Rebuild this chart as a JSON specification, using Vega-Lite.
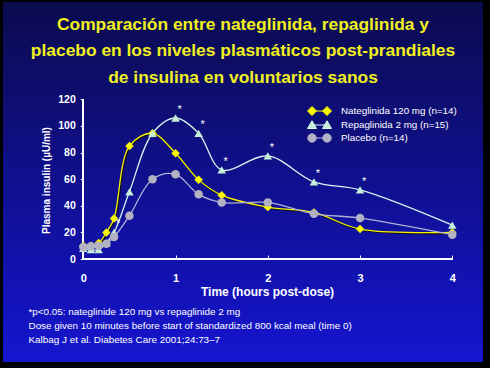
{
  "$schema": "https://vega.github.io/schema/vega-lite/v6.json",
  "width": 480,
  "height": 360,
  "autosize": {"type": "none"},
  "padding": {"left": 3, "top": 2, "right": 7, "bottom": 6},
  "background": "#000000",
  "view": {
    "stroke": null,
    "fill": {"gradient": "linear", "x1": 0, "y1": 0, "x2": 0, "y2": 1,
      "stops": [{"offset": 0, "color": "#0b0b4e"}, {"offset": 1, "color": "#1515d0"}]}
  },
  "title": {
    "text": ["Comparación entre nateglinida, repaglinida y", "placebo en los niveles plasmáticos post-prandiales", "de insulina en voluntarios sanos"],
    "anchor": "middle",
    "frame": "group",
    "orient": "top",
    "baseline": "bottom",
    "offset": -102,
    "font": "Liberation Sans, Arial, sans-serif",
    "fontSize": 17.4,
    "fontWeight": "bold",
    "color": "#f0f020",
    "lineHeight": 26.5,
    "zindex": 1
  },
  "data": {"values": [
    {"s": "Nateglinida 120 mg (n=14)", "t": 0, "v": 10, "sig": false},
    {"s": "Nateglinida 120 mg (n=14)", "t": 0.083, "v": 10, "sig": false},
    {"s": "Nateglinida 120 mg (n=14)", "t": 0.167, "v": 12, "sig": false},
    {"s": "Nateglinida 120 mg (n=14)", "t": 0.25, "v": 20, "sig": false},
    {"s": "Nateglinida 120 mg (n=14)", "t": 0.333, "v": 30.5, "sig": false},
    {"s": "Nateglinida 120 mg (n=14)", "t": 0.5, "v": 85, "sig": false},
    {"s": "Nateglinida 120 mg (n=14)", "t": 0.75, "v": 94.5, "sig": false},
    {"s": "Nateglinida 120 mg (n=14)", "t": 1, "v": 79.5, "sig": false},
    {"s": "Nateglinida 120 mg (n=14)", "t": 1.25, "v": 59.5, "sig": false},
    {"s": "Nateglinida 120 mg (n=14)", "t": 1.5, "v": 48, "sig": false},
    {"s": "Nateglinida 120 mg (n=14)", "t": 2, "v": 39, "sig": false},
    {"s": "Nateglinida 120 mg (n=14)", "t": 2.5, "v": 35, "sig": false},
    {"s": "Nateglinida 120 mg (n=14)", "t": 3, "v": 22.5, "sig": false},
    {"s": "Nateglinida 120 mg (n=14)", "t": 4, "v": 20, "sig": false},
    {"s": "Repaglinida 2 mg (n=15)", "t": 0, "v": 8, "sig": false},
    {"s": "Repaglinida 2 mg (n=15)", "t": 0.083, "v": 7, "sig": false},
    {"s": "Repaglinida 2 mg (n=15)", "t": 0.167, "v": 7, "sig": false},
    {"s": "Repaglinida 2 mg (n=15)", "t": 0.25, "v": 12, "sig": false},
    {"s": "Repaglinida 2 mg (n=15)", "t": 0.333, "v": 20, "sig": true},
    {"s": "Repaglinida 2 mg (n=15)", "t": 0.5, "v": 50.5, "sig": false},
    {"s": "Repaglinida 2 mg (n=15)", "t": 0.75, "v": 94.5, "sig": false},
    {"s": "Repaglinida 2 mg (n=15)", "t": 1, "v": 106, "sig": true},
    {"s": "Repaglinida 2 mg (n=15)", "t": 1.25, "v": 94.5, "sig": true},
    {"s": "Repaglinida 2 mg (n=15)", "t": 1.5, "v": 67, "sig": true},
    {"s": "Repaglinida 2 mg (n=15)", "t": 2, "v": 77.5, "sig": true},
    {"s": "Repaglinida 2 mg (n=15)", "t": 2.5, "v": 58, "sig": true},
    {"s": "Repaglinida 2 mg (n=15)", "t": 3, "v": 52, "sig": true},
    {"s": "Repaglinida 2 mg (n=15)", "t": 4, "v": 25.5, "sig": false},
    {"s": "Placebo (n=14)", "t": 0, "v": 9, "sig": false},
    {"s": "Placebo (n=14)", "t": 0.083, "v": 9.5, "sig": false},
    {"s": "Placebo (n=14)", "t": 0.167, "v": 10, "sig": false},
    {"s": "Placebo (n=14)", "t": 0.25, "v": 11.5, "sig": false},
    {"s": "Placebo (n=14)", "t": 0.333, "v": 16.5, "sig": false},
    {"s": "Placebo (n=14)", "t": 0.5, "v": 32.5, "sig": false},
    {"s": "Placebo (n=14)", "t": 0.75, "v": 60, "sig": false},
    {"s": "Placebo (n=14)", "t": 1, "v": 63.7, "sig": false},
    {"s": "Placebo (n=14)", "t": 1.25, "v": 48.6, "sig": false},
    {"s": "Placebo (n=14)", "t": 1.5, "v": 42.5, "sig": false},
    {"s": "Placebo (n=14)", "t": 2, "v": 42.5, "sig": false},
    {"s": "Placebo (n=14)", "t": 2.5, "v": 34, "sig": false},
    {"s": "Placebo (n=14)", "t": 3, "v": 30.8, "sig": false},
    {"s": "Placebo (n=14)", "t": 4, "v": 18.3, "sig": false}
  ]},
  "resolve": {"axis": {"x": "independent", "y": "independent"}},
  "layer": [
    {
      "mark": {"type": "line", "interpolate": "catmull-rom", "color": "#101018", "strokeWidth": 1.5, "xOffset": 1, "yOffset": 1},
      "transform": [{"filter": "datum.s === 'Nateglinida 120 mg (n=14)'"}],
      "encoding": {
        "x": {"field": "t", "type": "quantitative",
          "scale": {"domain": [-0.8705, 4.3328], "nice": false, "zero": false},
          "axis": {
            "orient": "bottom", "offset": -103, "values": [0, 1, 2, 3, 4], "format": "d",
            "domain": false, "grid": false, "tickColor": "white", "tickSize": -4, "tickWidth": 1,
            "labelPadding": 17, "labelFont": "Liberation Sans, Arial, sans-serif",
            "labelFontSize": 11, "labelFontWeight": "bold", "labelColor": "white",
            "title": "Time (hours post-dose)", "titleFont": "Liberation Sans, Arial, sans-serif",
            "titleFontSize": 12, "titleFontWeight": "bold", "titleColor": "white",
            "titleX": 264, "titleY": 32, "titleBaseline": "middle", "titleAlign": "center", "zindex": 1
          }},
        "y": {"field": "v", "type": "quantitative",
          "scale": {"domain": [-77.44, 193.23], "nice": false, "zero": false},
          "axis": {
            "orient": "left", "offset": -80.3, "values": [0, 20, 40, 60, 80, 100, 120],
            "domain": false, "grid": false, "tickColor": "white", "tickSize": 3, "tickWidth": 1,
            "labelPadding": 5, "labelFont": "Liberation Sans, Arial, sans-serif",
            "labelFontSize": 10.5, "labelFontWeight": "bold", "labelColor": "white",
            "title": "Plasma insulin (µU/ml)", "titleFont": "Liberation Sans, Arial, sans-serif",
            "titleFontSize": 10, "titleFontWeight": "bold", "titleColor": "white",
            "titleX": -37.3, "titleY": 178, "titleAngle": -90, "titleBaseline": "middle", "titleAlign": "center", "zindex": 1
          }}
      }
    },
    {
      "mark": {"type": "line", "interpolate": "catmull-rom", "strokeWidth": 1.3},
      "encoding": {
        "x": {"field": "t", "type": "quantitative", "axis": null},
        "y": {"field": "v", "type": "quantitative", "axis": null},
        "stroke": {"field": "s", "type": "nominal",
          "scale": {"domain": ["Nateglinida 120 mg (n=14)", "Repaglinida 2 mg (n=15)", "Placebo (n=14)"],
                    "range": ["#f5f500", "#d8f4ee", "#b0b0d8"]}}
      }
    },
    {
      "mark": {"type": "rule", "color": "white", "strokeWidth": 1.3},
      "encoding": {
        "x": {"datum": 0, "axis": null},
        "x2": {"datum": 4},
        "y": {"datum": 0, "axis": null}
      }
    },
    {
      "mark": {"type": "rule", "color": "white", "strokeWidth": 1.3},
      "encoding": {
        "x": {"datum": 0, "axis": null},
        "y": {"datum": 0, "axis": null},
        "y2": {"datum": 120}
      }
    },
    {
      "mark": {"type": "point", "shape": "diamond", "filled": true, "size": 72, "opacity": 1, "color": "#f8f800"},
      "transform": [{"filter": "datum.s === 'Nateglinida 120 mg (n=14)'"}],
      "encoding": {
        "x": {"field": "t", "type": "quantitative", "axis": null},
        "y": {"field": "v", "type": "quantitative", "axis": null}
      }
    },
    {
      "mark": {"type": "point", "shape": "triangle-up", "filled": true, "size": 72, "opacity": 1, "color": "#c4eed8"},
      "transform": [{"filter": "datum.s === 'Repaglinida 2 mg (n=15)'"}],
      "encoding": {
        "x": {"field": "t", "type": "quantitative", "axis": null},
        "y": {"field": "v", "type": "quantitative", "axis": null}
      }
    },
    {
      "mark": {"type": "point", "shape": "circle", "filled": true, "size": 72, "opacity": 1, "color": "#b2b2c2"},
      "transform": [{"filter": "datum.s === 'Placebo (n=14)'"}],
      "encoding": {
        "x": {"field": "t", "type": "quantitative", "axis": null},
        "y": {"field": "v", "type": "quantitative", "axis": null}
      }
    },
    {
      "mark": {"type": "point", "filled": true, "size": 100, "strokeWidth": 1},
      "transform": [{"filter": "false"}],
      "encoding": {
        "x": {"field": "t", "type": "quantitative", "axis": null},
        "y": {"field": "v", "type": "quantitative", "axis": null},
        "shape": {"field": "s", "type": "nominal",
          "scale": {"domain": ["Nateglinida 120 mg (n=14)", "Repaglinida 2 mg (n=15)", "Placebo (n=14)"],
                    "range": [
                      "M-2.4,0L-1.5,-0.9L-0.6,0L-1.5,0.9ZM0.6,0L1.5,-0.9L2.4,0L1.5,0.9ZM-1.5,0L1.5,0",
                      "M-1.5,-0.85L-0.6,0.7L-2.4,0.7ZM1.5,-0.85L2.4,0.7L0.6,0.7ZM-1.5,0L1.5,0",
                      "M-0.65,0L-0.764,0.425L-1.075,0.736L-1.5,0.85L-1.925,0.736L-2.236,0.425L-2.35,0L-2.236,-0.425L-1.925,-0.736L-1.5,-0.85L-1.075,-0.736L-0.764,-0.425ZM2.35,0L2.236,0.425L1.925,0.736L1.5,0.85L1.075,0.736L0.764,0.425L0.65,0L0.764,-0.425L1.075,-0.736L1.5,-0.85L1.925,-0.736L2.236,-0.425ZM-1.5,0L1.5,0"
                    ]},
          "legend": {
            "title": null, "orient": "none", "legendX": 311, "legendY": 103.5, "padding": 0,
            "symbolSize": 100, "symbolStrokeWidth": 1, "symbolOpacity": 1, "labelOffset": 16, "rowPadding": 1,
            "labelFont": "Liberation Sans, Arial, sans-serif", "labelFontSize": 9.8, "labelColor": "white"
          }},
        "color": {"field": "s", "type": "nominal",
          "scale": {"domain": ["Nateglinida 120 mg (n=14)", "Repaglinida 2 mg (n=15)", "Placebo (n=14)"],
                    "range": ["#f8f800", "#c4eed8", "#b2b2c2"]},
          "legend": {
            "title": null, "orient": "none", "legendX": 311, "legendY": 103.5, "padding": 0,
            "symbolSize": 100, "symbolStrokeWidth": 1, "symbolOpacity": 1, "labelOffset": 16, "rowPadding": 1,
            "labelFont": "Liberation Sans, Arial, sans-serif", "labelFontSize": 9.8, "labelColor": "white"
          }},
        "stroke": {"field": "s", "type": "nominal",
          "legend": {
            "title": null, "orient": "none", "legendX": 311, "legendY": 103.5, "padding": 0,
            "symbolSize": 100, "symbolStrokeWidth": 1, "symbolOpacity": 1, "labelOffset": 16, "rowPadding": 1,
            "labelFont": "Liberation Sans, Arial, sans-serif", "labelFontSize": 9.8, "labelColor": "white"
          }}
      }
    },
    {
      "mark": {"type": "text", "text": "*", "color": "white", "fontSize": 11, "font": "Liberation Sans, Arial, sans-serif", "dx": 4, "dy": -8, "baseline": "middle"},
      "transform": [{"filter": "datum.sig"}],
      "encoding": {
        "x": {"field": "t", "type": "quantitative",
          "axis": {
            "orient": "bottom", "offset": 0, "domain": false, "ticks": false, "labels": false, "grid": false,
            "title": ["*p<0.05: nateglinide 120 mg vs repaglinide 2 mg", "Dose given 10 minutes before start of standardized 800 kcal meal (time 0)", "Kalbag J et al. Diabetes Care 2001;24:73–7"],
            "titleX": 25, "titleY": -56, "titleAlign": "left", "titleAnchor": "start", "titleBaseline": "top", "titleAngle": 0,
            "titleFont": "Liberation Sans, Arial, sans-serif", "titleFontSize": 9.9, "titleFontWeight": "normal",
            "titleColor": "white", "titleLineHeight": 14
          }},
        "y": {"field": "v", "type": "quantitative", "axis": null}
      }
    }
  ]
}
